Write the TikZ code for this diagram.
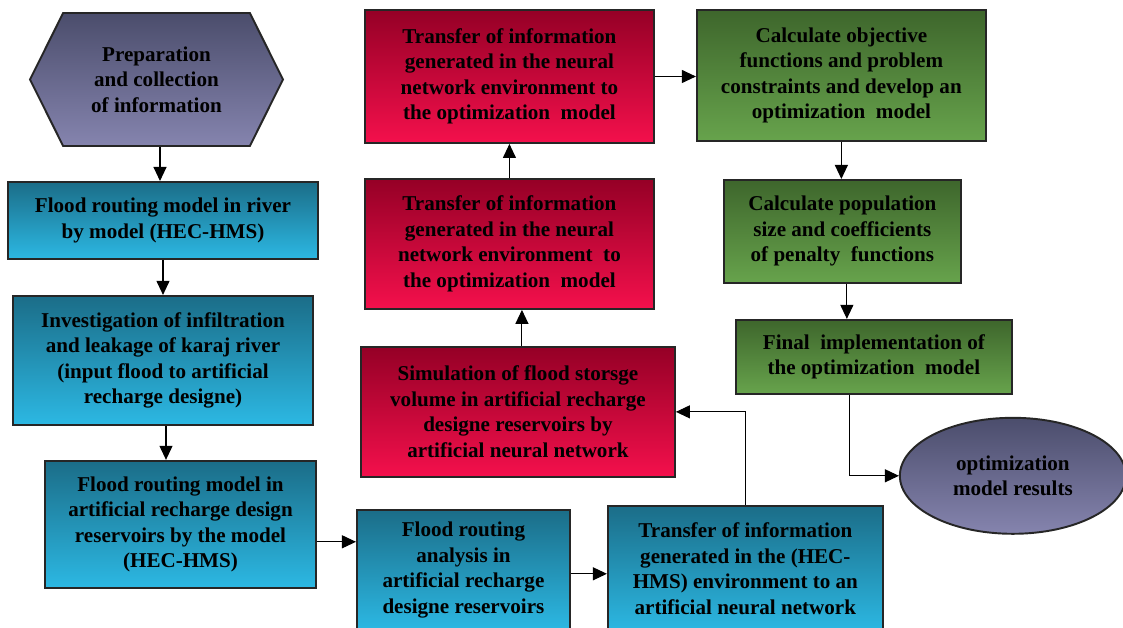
\documentclass[tikz,border=0pt]{standalone}
\usepackage{fontspec}
\setmainfont{Liberation Serif}
\usetikzlibrary{shapes,arrows.meta,positioning}

\definecolor{bluetop}{HTML}{1B6D88}
\definecolor{bluebot}{HTML}{2CB8E3}
\definecolor{redtop}{HTML}{950026}
\definecolor{redbot}{HTML}{F4104C}
\definecolor{greentop}{HTML}{3E662C}
\definecolor{greenbot}{HTML}{67A34C}
\definecolor{slatetop}{HTML}{4B4D6C}
\definecolor{slatebot}{HTML}{8584AE}

\begin{document}
\begin{tikzpicture}[
    node distance=0.7cm,
    basebox/.style={rectangle, draw=black!85, line width=1.1pt, align=center, inner sep=2pt, font=\fontsize{12}{14.5}\selectfont\bfseries},
    hexstep/.style={basebox, signal, signal to=west and east, signal pointer angle=127, top color=slatetop, bottom color=slatebot},
    bluebox/.style={basebox, top color=bluetop, bottom color=bluebot},
    redbox/.style={basebox, top color=redtop, bottom color=redbot},
    greenbox/.style={basebox, top color=greentop, bottom color=greenbot},
    resultell/.style={basebox, ellipse, top color=slatetop, bottom color=slatebot},
    arrow/.style={line width=0.6pt, draw=black, -{Triangle[length=0.28cm,width=0.26cm]}}
]
\useasboundingbox (0,0) rectangle (22.46,-12.56);

% Start
\node[hexstep, minimum width=5.06cm, minimum height=2.66cm] (prep) at (3.13,-1.59) {Preparation\\and collection\\of information};

% HEC-HMS chain
\node[bluebox, minimum width=6.20cm, minimum height=1.54cm, below=0.68cm of prep, xshift=0.13cm] (river) {Flood routing model in river\\by model (HEC-HMS)};
\node[bluebox, minimum width=6.00cm, minimum height=2.58cm, below=0.70cm of river] (leak) {Investigation of infiltration\\and leakage of karaj river\\(input flood to artificial\\recharge designe)};
\node[bluebox, minimum width=5.42cm, minimum height=2.54cm, below=0.68cm of leak, xshift=0.35cm] (resrout) {Flood routing model in\\artificial recharge design\\reservoirs by the model\\(HEC-HMS)};
\node[bluebox, minimum width=4.26cm, minimum height=2.40cm, right=0.78cm of resrout, yshift=-0.91cm] (analysis) {Flood routing\\analysis in\\artificial recharge\\designe reservoirs};
\node[bluebox, minimum width=5.50cm, minimum height=2.52cm, right=0.72cm of analysis, yshift=0.02cm] (hmsann) {Transfer of information\\generated in the (HEC-\\HMS) environment to an\\artificial neural network};

% Neural network
\node[redbox, minimum width=6.28cm, minimum height=2.60cm, above=0.62cm of analysis, xshift=1.09cm] (ann) {Simulation of flood storsge\\volume in artificial recharge\\designe reservoirs by\\artificial neural network};
\node[redbox, minimum width=5.78cm, minimum height=2.60cm, above=0.72cm of ann, xshift=-0.17cm] (annopt) {Transfer of information\\generated in the neural\\network environment\ \ to\\the optimization\ \ model};
\node[redbox, minimum width=5.78cm, minimum height=2.66cm, above=0.68cm of annopt] (annopt2) {Transfer of information\\generated in the neural\\network environment to\\the optimization\ \ model};

% Optimization
\node[greenbox, minimum width=5.78cm, minimum height=2.62cm, right=0.82cm of annopt2, yshift=0.02cm] (objfun) {Calculate objective\\functions and problem\\constraints and develop an\\optimization\ \ model};
\node[greenbox, minimum width=4.74cm, minimum height=2.06cm, below=0.74cm of objfun, xshift=0.02cm] (popsize) {Calculate population\\size and coefficients\\of penalty\ \ functions};
\node[greenbox, minimum width=5.52cm, minimum height=1.48cm, below=0.70cm of popsize, xshift=0.63cm] (final) {Final\ \ implementation of\\the optimization\ \ model};

% Result
\node[resultell, minimum width=4.52cm, minimum height=2.32cm, below=0.44cm of final, xshift=2.78cm] (result) {optimization\\model results};

% Arrows
\draw[arrow] ([xshift=0.07cm]prep.south) coordinate (a1) -- (a1 |- river.north);
\draw[arrow] (river) -- (leak);
\draw[arrow] ([xshift=0.06cm]leak.south) coordinate (a2) -- (a2 |- resrout.north);
\draw[arrow] ([yshift=-0.35cm]resrout.east) coordinate (a3) -- (a3 -| analysis.west);
\draw[arrow] ([yshift=-0.08cm]analysis.east) coordinate (a4) -- (a4 -| hmsann.west);
\draw[arrow] (hmsann.north) |- (ann.east);
\draw[arrow] ([xshift=0.08cm]ann.north) coordinate (a5) -- (a5 |- annopt.south);
\draw[arrow] (annopt) -- (annopt2);
\draw[arrow] (annopt2.east) -- (annopt2.east -| objfun.west);
\draw[arrow] (objfun.south) -- (objfun.south |- popsize.north);
\draw[arrow] ([xshift=0.09cm]popsize.south) coordinate (a6) -- (a6 |- final.north);
\draw[arrow] ([xshift=-0.48cm]final.south) |- (result.west);

\end{tikzpicture}
\end{document}
